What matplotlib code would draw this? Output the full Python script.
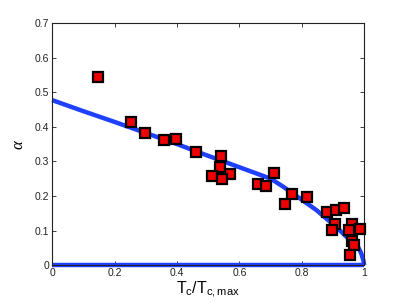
import matplotlib
matplotlib.use("Agg")
import matplotlib.pyplot as plt

plt.rcParams['font.family'] = ['Liberation Sans', 'DejaVu Sans']
plt.rcParams['mathtext.fontset'] = 'custom'
plt.rcParams['mathtext.rm'] = 'Liberation Sans'
plt.rcParams['mathtext.it'] = 'Liberation Serif:italic'

# measured data points (Tc/Tc,max, alpha)
tc_ratio = [0.146, 0.252, 0.296, 0.357, 0.396, 0.462, 0.542, 0.538, 0.511, 0.569,
            0.544, 0.660, 0.684, 0.710, 0.769, 0.747, 0.817, 0.882, 0.911, 0.934,
            0.906, 0.897, 0.962, 0.950, 0.987, 0.961, 0.966, 0.955]
alpha = [0.544, 0.414, 0.382, 0.362, 0.364, 0.326, 0.316, 0.284, 0.259, 0.263,
         0.248, 0.236, 0.228, 0.267, 0.206, 0.178, 0.198, 0.154, 0.159, 0.164,
         0.119, 0.103, 0.119, 0.103, 0.105, 0.070, 0.059, 0.030]

# theory curve
curve_x = [0.0, 0.1, 0.2, 0.3, 0.4, 0.467, 0.5, 0.6, 0.7, 0.74, 0.8, 0.847,
           0.9, 0.921, 0.95, 0.975, 0.99, 0.997, 1.0]
curve_y = [0.477, 0.445, 0.414, 0.382, 0.35, 0.327, 0.316, 0.283, 0.25, 0.227,
           0.189, 0.159, 0.118, 0.101, 0.076, 0.062, 0.035, 0.015, 0.0]

# zero branch
zero_x = [0.0, 1.0]
zero_y = [0.0, 0.0]

xticks = [0, 0.2, 0.4, 0.6, 0.8, 1]
yticks = [0, 0.1, 0.2, 0.3, 0.4, 0.5, 0.6, 0.7]

fig = plt.figure(figsize=(4.02, 3.03), dpi=100)
ax = fig.add_axes([0.130, 0.125, 0.776, 0.799])

blue = '#2040ff'
ax.plot(curve_x, curve_y, color=blue, lw=3.2, solid_capstyle='butt',
        solid_joinstyle='round', clip_on=False, zorder=2)
ax.plot(zero_x, zero_y, color=blue, lw=3.2, solid_capstyle='butt',
        clip_on=False, zorder=2)
ax.plot(tc_ratio, alpha, ls='none', marker='s', markersize=6.8,
        markerfacecolor='#ee0000', markeredgecolor='black', markeredgewidth=1.6,
        zorder=3, clip_on=False)

ax.set_xlim(0, 1)
ax.set_ylim(0, 0.7)
ax.set_xticks(xticks)
ax.set_yticks(yticks)
ax.set_xticklabels(['0', '0.2', '0.4', '0.6', '0.8', '1'])
ax.set_yticklabels(['0', '0.1', '0.2', '0.3', '0.4', '0.5', '0.6', '0.7'])
ax.tick_params(direction='in', top=True, right=True, length=3, width=0.6,
               labelsize=7.5, pad=2, colors='#222222')
for s in ax.spines.values():
    s.set_linewidth(0.8)
    s.set_color('#222222')

ax.set_xlabel(r'$\mathregular{T_c/T_{c,max}}$', fontsize=11.5, labelpad=1)
ax.set_ylabel(r'$\alpha$', fontsize=12)
ax.yaxis.set_label_coords(-0.085, 0.5)

fig.savefig('out.png', dpi=100)
